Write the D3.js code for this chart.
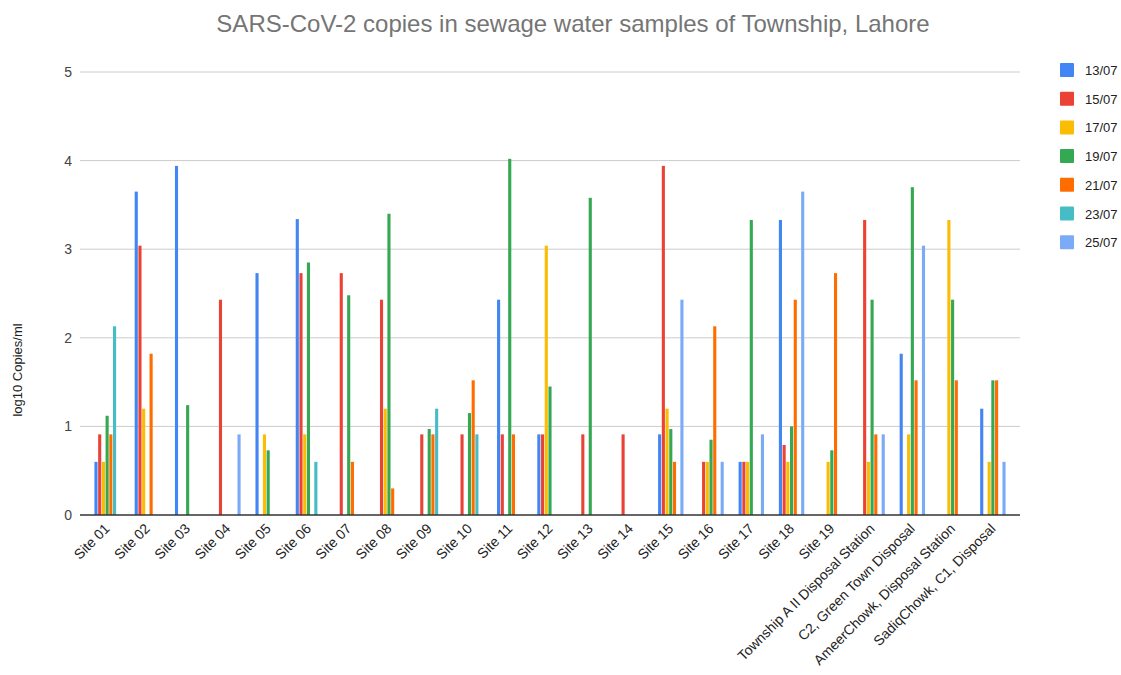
<!DOCTYPE html>
<html>
<head>
<meta charset="utf-8">
<script src="https://cdn.jsdelivr.net/npm/d3@7"></script>
<style>
  body { margin: 0; background: #fff; }
  text { font-family: Arial, "Liberation Sans", sans-serif; }
</style>
</head>
<body>
<div id="chart"></div>
<script>
// sites along the x axis
const sites = ['Site 01', 'Site 02', 'Site 03', 'Site 04', 'Site 05', 'Site 06', 'Site 07',
  'Site 08', 'Site 09', 'Site 10', 'Site 11', 'Site 12', 'Site 13', 'Site 14', 'Site 15',
  'Site 16', 'Site 17', 'Site 18', 'Site 19', 'Township A II Disposal Station',
  'C2, Green Town Disposal', 'AmeerChowk, Disposal Station', 'SadiqChowk, C1, Disposal'];

const dates = ['13/07', '15/07', '17/07', '19/07', '21/07', '23/07', '25/07'];
const colors = ['#4285f4', '#ea4335', '#fbbc04', '#34a853', '#ff6d01', '#46bdc6', '#7baaf7'];

// log10 copies/ml, one array per sampling date, in site order
const d1307 = [0.6, 3.65, 3.94, 0, 2.73, 3.34, 0, 0, 0, 0, 2.43, 0.91, 0, 0, 0.91, 0, 0.6, 3.33, 0, 0, 1.82, 0, 1.2];
const d1507 = [0.91, 3.04, 0, 2.43, 0, 2.73, 2.73, 2.43, 0.91, 0.91, 0.91, 0.91, 0.91, 0.91, 3.94, 0.6, 0.6, 0.79, 0, 3.33, 0, 0, 0];
const d1707 = [0.6, 1.2, 0, 0, 0.91, 0.91, 0, 1.2, 0, 0, 0, 3.04, 0, 0, 1.2, 0.6, 0.6, 0.6, 0.6, 0.6, 0.91, 3.33, 0.6];
const d1907 = [1.12, 0, 1.24, 0, 0.73, 2.85, 2.48, 3.4, 0.97, 1.15, 4.02, 1.45, 3.58, 0, 0.97, 0.85, 3.33, 1.0, 0.73, 2.43, 3.7, 2.43, 1.52];
const d2107 = [0.91, 1.82, 0, 0, 0, 0, 0.6, 0.3, 0.91, 1.52, 0.91, 0, 0, 0, 0.6, 2.13, 0, 2.43, 2.73, 0.91, 1.52, 1.52, 1.52];
const d2307 = [2.13, 0, 0, 0, 0, 0.6, 0, 0, 1.2, 0.91, 0, 0, 0, 0, 0, 0, 0, 0, 0, 0, 0, 0, 0];
const d2507 = [0, 0, 0, 0.91, 0, 0, 0, 0, 0, 0, 0, 0, 0, 0, 2.43, 0.6, 0.91, 3.65, 0, 0.91, 3.04, 0, 0.6];

const yTicks = [0, 1, 2, 3, 4, 5];

const series = [d1307, d1507, d1707, d1907, d2107, d2307, d2507];

const width = 1121;
const height = 675;
const plot = { left: 80, right: 1020, top: 72, bottom: 515 };

const svg = d3.select('#chart')
  .append('svg')
  .attr('width', width)
  .attr('height', height);

const x0 = d3.scaleBand()
  .domain(sites)
  .range([plot.left + 7, plot.right - 7]);

const groupWidth = 26;
const x1 = d3.scaleBand()
  .domain(dates)
  .range([0, groupWidth]);

const y = d3.scaleLinear()
  .domain([0, 5])
  .range([plot.bottom, plot.top]);

// gridlines
svg.append('g')
  .selectAll('line')
  .data(yTicks.filter(t => t > 0))
  .enter()
  .append('line')
  .attr('x1', plot.left)
  .attr('x2', plot.right)
  .attr('y1', d => y(d))
  .attr('y2', d => y(d))
  .attr('stroke', '#cccccc')
  .attr('stroke-width', 1);

// y axis labels
const yAxis = svg.append('g')
  .attr('transform', `translate(${plot.left},0)`)
  .call(d3.axisLeft(y).tickValues(yTicks).tickFormat(d3.format('d')).tickSize(0).tickPadding(8));
yAxis.select('.domain').remove();
yAxis.selectAll('text')
  .attr('font-size', 14)
  .attr('fill', '#444');

// bars
const rows = sites.map((s, i) => ({ site: s, values: series.map((arr, k) => ({ date: dates[k], color: colors[k], v: arr[i] })) }));

svg.append('g')
  .selectAll('g')
  .data(rows)
  .enter()
  .append('g')
  .attr('transform', d => `translate(${x0(d.site) + ((x0.bandwidth() - groupWidth) / 2)},0)`)
  .selectAll('rect')
  .data(d => d.values.filter(v => v.v > 0))
  .enter()
  .append('rect')
  .attr('x', d => x1(d.date) + 0.3)
  .attr('width', x1.bandwidth() - 0.6)
  .attr('y', d => y(d.v))
  .attr('height', d => y(0) - y(d.v))
  .attr('fill', d => d.color);

// baseline
svg.append('line')
  .attr('x1', plot.left)
  .attr('x2', plot.right)
  .attr('y1', y(0))
  .attr('y2', y(0))
  .attr('stroke', '#333')
  .attr('stroke-width', 1.5);

// x axis labels
const xAxis = svg.append('g')
  .attr('transform', `translate(0,${plot.bottom})`)
  .call(d3.axisBottom(x0).tickSize(0).tickPadding(0));
xAxis.select('.domain').remove();
xAxis.selectAll('text')
  .attr('font-size', 14)
  .attr('fill', '#222')
  .attr('text-anchor', 'end')
  .attr('dy', '0.35em')
  .attr('transform', 'translate(0,11) rotate(-45)');

// title
svg.append('text')
  .attr('x', 573)
  .attr('y', 32)
  .attr('text-anchor', 'middle')
  .attr('font-size', 24)
  .attr('fill', '#757575')
  .text('SARS-CoV-2 copies in sewage water samples of Township, Lahore');

// y axis title
svg.append('text')
  .attr('transform', 'translate(22,370) rotate(-90)')
  .attr('text-anchor', 'middle')
  .attr('font-size', 13)
  .attr('fill', '#222')
  .text('log10 Copies/ml');

// legend
const legend = svg.append('g')
  .attr('transform', 'translate(1060,63)')
  .selectAll('g')
  .data(dates)
  .enter()
  .append('g')
  .attr('transform', (d, i) => `translate(0,${i * 28.7})`);

legend.append('rect')
  .attr('width', 14)
  .attr('height', 14)
  .attr('rx', 1)
  .attr('fill', (d, i) => colors[i]);

legend.append('text')
  .attr('x', 25)
  .attr('y', 12)
  .attr('font-size', 13)
  .attr('fill', '#222')
  .text(d => d);
</script>
</body>
</html>
